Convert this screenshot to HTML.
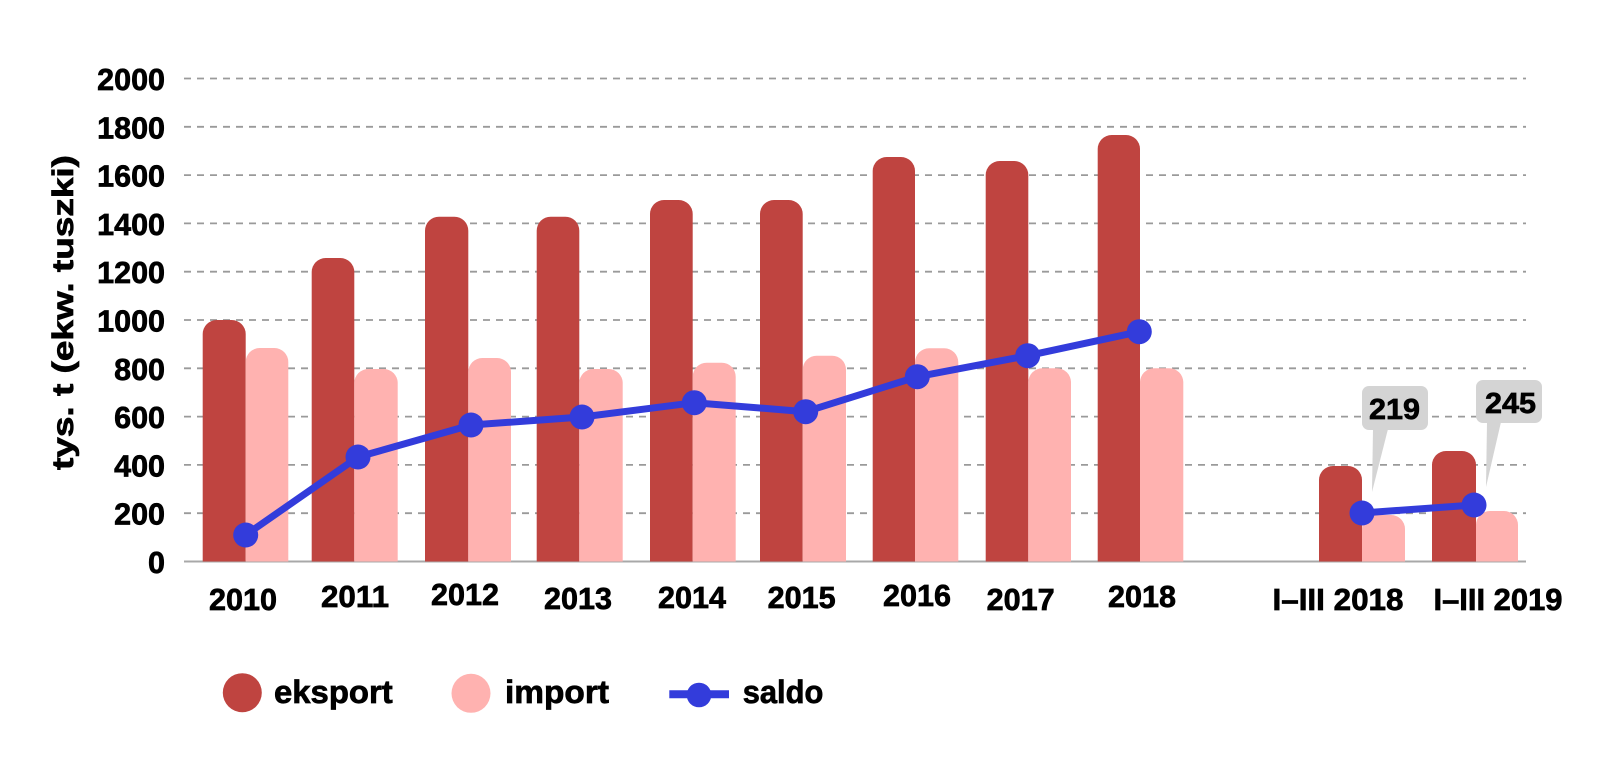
<!DOCTYPE html>
<html>
<head>
<meta charset="utf-8">
<style>
  html, body { margin: 0; padding: 0; background: #ffffff; }
  body { width: 1600px; height: 768px; overflow: hidden; }
  svg { display: block; }
  text { font-family: "Liberation Sans", "DejaVu Sans", sans-serif; font-weight: bold; fill: #000; stroke: #000; stroke-width: 0.7px; }
</style>
</head>
<body>
<svg width="1600" height="768" viewBox="0 0 1600 768" xmlns="http://www.w3.org/2000/svg">
  <rect x="0" y="0" width="1600" height="768" fill="#ffffff"/>

  <!-- gridlines -->
  <g stroke="#9a9a9a" stroke-width="1.8" stroke-dasharray="7 6" fill="none">
    <line x1="184" y1="78.5" x2="1526" y2="78.5"/>
    <line x1="184" y1="126.8" x2="1526" y2="126.8"/>
    <line x1="184" y1="175.1" x2="1526" y2="175.1"/>
    <line x1="184" y1="223.4" x2="1526" y2="223.4"/>
    <line x1="184" y1="271.7" x2="1526" y2="271.7"/>
    <line x1="184" y1="320" x2="1526" y2="320"/>
    <line x1="184" y1="368.3" x2="1526" y2="368.3"/>
    <line x1="184" y1="416.6" x2="1526" y2="416.6"/>
    <line x1="184" y1="464.9" x2="1526" y2="464.9"/>
    <line x1="184" y1="513.2" x2="1526" y2="513.2"/>
  </g>
  <line x1="184" y1="561.5" x2="1526" y2="561.5" stroke="#a8a8a8" stroke-width="2"/>

  <!-- y tick labels -->
  <g font-size="30.5" text-anchor="end">
    <text x="165" y="90">2000</text>
    <text x="165" y="138.3">1800</text>
    <text x="165" y="186.6">1600</text>
    <text x="165" y="234.9">1400</text>
    <text x="165" y="283.2">1200</text>
    <text x="165" y="331.5">1000</text>
    <text x="165" y="379.8">800</text>
    <text x="165" y="428.1">600</text>
    <text x="165" y="476.4">400</text>
    <text x="165" y="524.7">200</text>
    <text x="165" y="573">0</text>
  </g>

  <!-- y axis title -->
  <text x="0" y="0" font-size="30" textLength="315" lengthAdjust="spacingAndGlyphs"
        transform="translate(73,470) rotate(-90)">tys. t (ekw. tuszki)</text>

  <!-- eksport bars -->
  <g fill="#bf4440">
    <path d="M202.7 561.5 L202.7 334 A14 14 0 0 1 216.7 320 L231.7 320 A14 14 0 0 1 245.7 334 L245.7 561.5 Z"/>
    <path d="M311.7 561.5 L311.7 272 A14 14 0 0 1 325.7 258 L340.3 258 A14 14 0 0 1 354.3 272 L354.3 561.5 Z"/>
    <path d="M425 561.5 L425 230.7 A14 14 0 0 1 439 216.7 L454.3 216.7 A14 14 0 0 1 468.3 230.7 L468.3 561.5 Z"/>
    <path d="M536.7 561.5 L536.7 230.7 A14 14 0 0 1 550.7 216.7 L565.3 216.7 A14 14 0 0 1 579.3 230.7 L579.3 561.5 Z"/>
    <path d="M650 561.5 L650 214 A14 14 0 0 1 664 200 L678.7 200 A14 14 0 0 1 692.7 214 L692.7 561.5 Z"/>
    <path d="M760 561.5 L760 214 A14 14 0 0 1 774 200 L788.7 200 A14 14 0 0 1 802.7 214 L802.7 561.5 Z"/>
    <path d="M872.7 561.5 L872.7 171 A14 14 0 0 1 886.7 157 L901 157 A14 14 0 0 1 915 171 L915 561.5 Z"/>
    <path d="M985.7 561.5 L985.7 175 A14 14 0 0 1 999.7 161 L1014.3 161 A14 14 0 0 1 1028.3 175 L1028.3 561.5 Z"/>
    <path d="M1097.7 561.5 L1097.7 149 A14 14 0 0 1 1111.7 135 L1126 135 A14 14 0 0 1 1140 149 L1140 561.5 Z"/>
    <path d="M1319 561.5 L1319 480 A14 14 0 0 1 1333 466 L1348 466 A14 14 0 0 1 1362 480 L1362 561.5 Z"/>
    <path d="M1432 561.5 L1432 465 A14 14 0 0 1 1446 451 L1462 451 A14 14 0 0 1 1476 465 L1476 561.5 Z"/>
  </g>

  <!-- import bars -->
  <g fill="#ffb2b0">
    <path d="M245.7 561.5 L245.7 362 A14 14 0 0 1 259.7 348 L274.3 348 A14 14 0 0 1 288.3 362 L288.3 561.5 Z"/>
    <path d="M354.3 561.5 L354.3 383 A14 14 0 0 1 368.3 369 L383.7 369 A14 14 0 0 1 397.7 383 L397.7 561.5 Z"/>
    <path d="M468.3 561.5 L468.3 372 A14 14 0 0 1 482.3 358 L497 358 A14 14 0 0 1 511 372 L511 561.5 Z"/>
    <path d="M579.3 561.5 L579.3 383 A14 14 0 0 1 593.3 369 L608.7 369 A14 14 0 0 1 622.7 383 L622.7 561.5 Z"/>
    <path d="M692.7 561.5 L692.7 376.7 A14 14 0 0 1 706.7 362.7 L721.7 362.7 A14 14 0 0 1 735.7 376.7 L735.7 561.5 Z"/>
    <path d="M802.7 561.5 L802.7 369.7 A14 14 0 0 1 816.7 355.7 L832 355.7 A14 14 0 0 1 846 369.7 L846 561.5 Z"/>
    <path d="M915 561.5 L915 362.3 A14 14 0 0 1 929 348.3 L944.3 348.3 A14 14 0 0 1 958.3 362.3 L958.3 561.5 Z"/>
    <path d="M1028.3 561.5 L1028.3 382.3 A14 14 0 0 1 1042.3 368.3 L1057 368.3 A14 14 0 0 1 1071 382.3 L1071 561.5 Z"/>
    <path d="M1140 561.5 L1140 382.3 A14 14 0 0 1 1154 368.3 L1169.3 368.3 A14 14 0 0 1 1183.3 382.3 L1183.3 561.5 Z"/>
    <path d="M1362 561.5 L1362 529 A14 14 0 0 1 1376 515 L1391 515 A14 14 0 0 1 1405 529 L1405 561.5 Z"/>
    <path d="M1476 561.5 L1476 525 A14 14 0 0 1 1490 511 L1504 511 A14 14 0 0 1 1518 525 L1518 561.5 Z"/>
  </g>

  <!-- callouts -->
  <g fill="#d4d4d4">
    <rect x="1362" y="386" width="66" height="44" rx="7" ry="7"/>
    <polygon points="1373,429 1388,429 1372,492"/>
    <rect x="1476" y="380" width="66" height="43" rx="7" ry="7"/>
    <polygon points="1487,422 1501,422 1486,487"/>
  </g>
  <text x="1369" y="419" font-size="29" textLength="51" lengthAdjust="spacingAndGlyphs">219</text>
  <text x="1485" y="413" font-size="29" textLength="51" lengthAdjust="spacingAndGlyphs">245</text>

  <!-- saldo line -->
  <g stroke="#333cdb" stroke-width="7" fill="none" stroke-linejoin="round" stroke-linecap="round">
    <polyline points="245.7,535 358,457 471,425 582,417 694.3,402.7 805.7,411.7 917.3,376.7 1027.7,355.7 1139.3,331.7"/>
    <polyline points="1362,513 1474,505"/>
  </g>
  <g fill="#333cdb">
    <circle cx="245.7" cy="535" r="12.5"/>
    <circle cx="358" cy="457" r="12.5"/>
    <circle cx="471" cy="425" r="12.5"/>
    <circle cx="582" cy="417" r="12.5"/>
    <circle cx="694.3" cy="402.7" r="12.5"/>
    <circle cx="805.7" cy="411.7" r="12.5"/>
    <circle cx="917.3" cy="376.7" r="12.5"/>
    <circle cx="1027.7" cy="355.7" r="12.5"/>
    <circle cx="1139.3" cy="331.7" r="12.5"/>
    <circle cx="1362" cy="513" r="12.5"/>
    <circle cx="1474" cy="505" r="12.5"/>
  </g>

  <!-- x labels -->
  <g font-size="30.5" text-anchor="middle">
    <text x="243" y="610" textLength="68" lengthAdjust="spacingAndGlyphs">2010</text>
    <text x="355" y="607" textLength="68" lengthAdjust="spacingAndGlyphs">2011</text>
    <text x="465" y="605" textLength="68" lengthAdjust="spacingAndGlyphs">2012</text>
    <text x="578" y="609" textLength="68" lengthAdjust="spacingAndGlyphs">2013</text>
    <text x="692" y="608" textLength="68" lengthAdjust="spacingAndGlyphs">2014</text>
    <text x="801.7" y="608" textLength="68" lengthAdjust="spacingAndGlyphs">2015</text>
    <text x="917" y="606" textLength="68" lengthAdjust="spacingAndGlyphs">2016</text>
    <text x="1020.7" y="610" textLength="68" lengthAdjust="spacingAndGlyphs">2017</text>
    <text x="1142" y="607" textLength="68" lengthAdjust="spacingAndGlyphs">2018</text>
    <text x="1338" y="610" textLength="131" lengthAdjust="spacingAndGlyphs">I–III 2018</text>
    <text x="1498" y="610" textLength="129" lengthAdjust="spacingAndGlyphs">I–III 2019</text>
  </g>

  <!-- legend -->
  <circle cx="242.3" cy="692.7" r="19.5" fill="#bf4440"/>
  <text x="274" y="703" font-size="32" textLength="118.7" lengthAdjust="spacingAndGlyphs">eksport</text>
  <circle cx="471" cy="693.3" r="19.5" fill="#ffb2b0"/>
  <text x="505" y="703" font-size="32" textLength="104" lengthAdjust="spacingAndGlyphs">import</text>
  <line x1="669.3" y1="694.3" x2="729" y2="694.3" stroke="#333cdb" stroke-width="8"/>
  <circle cx="699" cy="695" r="12.3" fill="#333cdb"/>
  <text x="742.7" y="703" font-size="32" textLength="80.6" lengthAdjust="spacingAndGlyphs">saldo</text>
</svg>
</body>
</html>
